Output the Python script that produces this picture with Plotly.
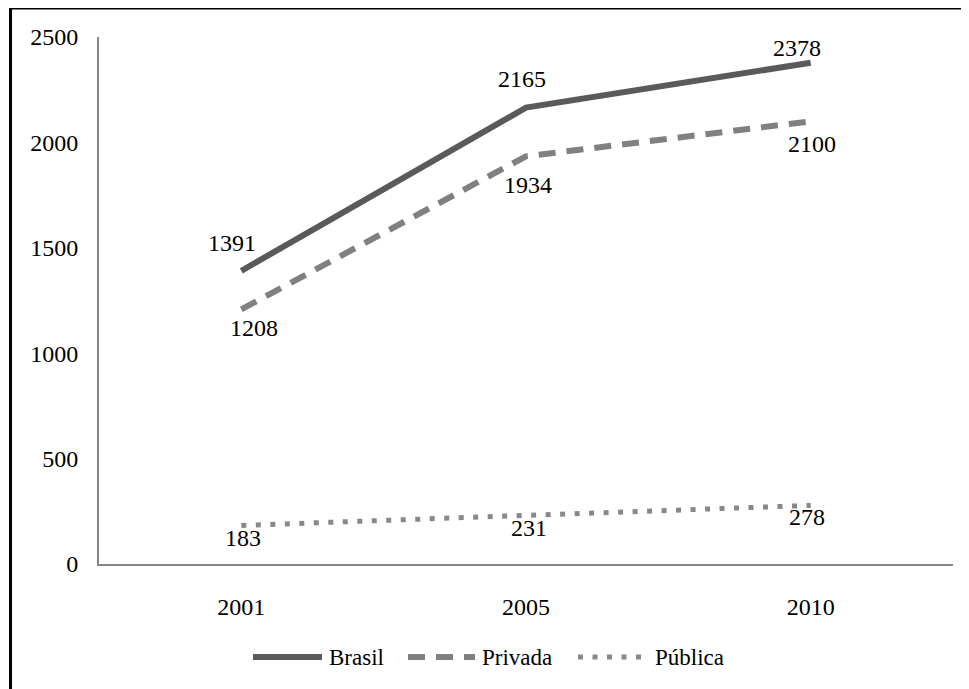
import plotly.graph_objects as go

years = ["2001", "2005", "2010"]
brasil = [1391, 2165, 2378]
privada = [1208, 1934, 2100]
publica = [183, 231, 278]
y_ticks = [0, 500, 1000, 1500, 2000, 2500]
series_names = ["Brasil", "Privada", "Pública"]

FONT = "Liberation Serif, Times New Roman, serif"
colors = ["#5a5a5a", "#808080", "#888888"]
widths = [6, 6, 5]
dashes = ["solid", "17px,11px", "5px,9.5px"]

fig = go.Figure()
for name, vals, c, w, d in zip(series_names, [brasil, privada, publica], colors, widths, dashes):
    fig.add_trace(go.Scatter(x=years, y=vals, name=name, mode="lines",
                             line=dict(color=c, width=w, dash=d), showlegend=False))

# data labels: (series values, pixel offsets of label centre from the point)
label_specs = [
    (brasil, [(-9, 28), (-4, 29), (-14, 15)]),
    (privada, [(13, -19), (2, -29), (1, -23)]),
    (publica, [(2, -13), (3, -13), (-4, -12)]),
]
for vals, shifts in label_specs:
    for i, (v, (dx, dy)) in enumerate(zip(vals, shifts)):
        fig.add_annotation(x=i, y=v, xref="x", yref="y", text=str(v), showarrow=False,
                           xshift=dx, yshift=dy,
                           font=dict(family=FONT, size=24, color="black"))

# legend drawn as a row below the plot (paper coordinates)
PLOT_L, PLOT_W = 99, 854
def px(x):
    return (x - PLOT_L) / PLOT_W
LEG_Y = (564 - 657) / 527
legend_items = [(253, 322, 327), (408, 475, 480), (578, 641, 653)]
shapes = [dict(type="rect", xref="paper", yref="paper",
               x0=-0.1036, x1=1.3, y0=-0.6, y1=1.055,
               line=dict(color="black", width=3), layer="below")]
for name, c, w, d, (x0, x1, xt) in zip(series_names, colors, widths, dashes, legend_items):
    shapes.append(dict(type="line", xref="paper", yref="paper",
                       x0=px(x0), x1=px(x1), y0=LEG_Y, y1=LEG_Y,
                       line=dict(color=c, width=w, dash=d)))
    fig.add_annotation(x=px(xt), y=LEG_Y, xref="paper", yref="paper", text=name,
                       showarrow=False, xanchor="left", yanchor="middle",
                       font=dict(family=FONT, size=23, color="black"))

fig.update_layout(
    width=969, height=689,
    margin=dict(l=91, r=24, t=29, b=133),
    paper_bgcolor="white", plot_bgcolor="white",
    font=dict(family=FONT, size=24, color="black"),
    showlegend=False,
    xaxis=dict(type="category", range=[-0.5, 2.5], showgrid=False,
               showline=True, linecolor="#868686", linewidth=2,
               ticks="", tickfont=dict(family=FONT, size=24, color="black"),
               ticklabelstandoff=20, zeroline=False),
    yaxis=dict(range=[0, 2500], tickvals=y_ticks, showgrid=False,
               showline=True, linecolor="#868686", linewidth=2,
               ticks="", tickfont=dict(family=FONT, size=24, color="black"),
               ticklabelstandoff=14, zeroline=False),
    shapes=shapes,
)

fig.write_html("out.html")
